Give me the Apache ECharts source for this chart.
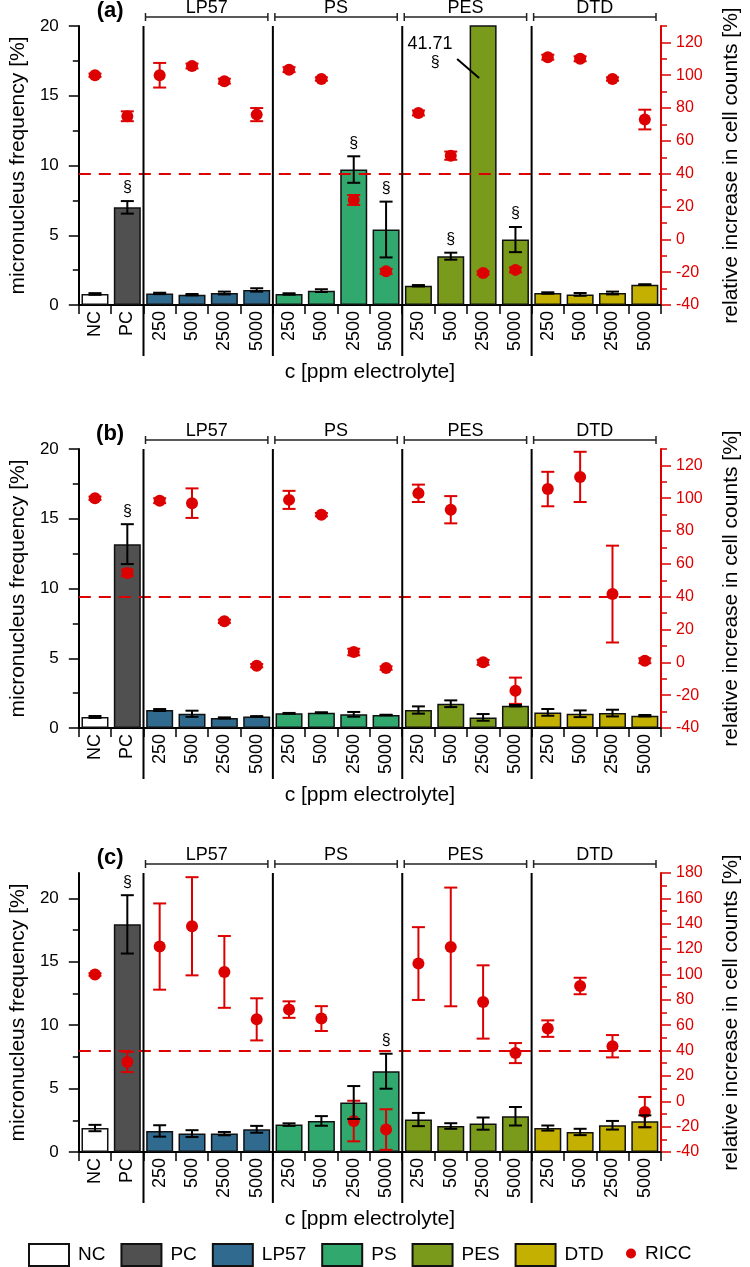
<!DOCTYPE html>
<html><head><meta charset="utf-8">
<script src="https://cdn.jsdelivr.net/npm/echarts@6/dist/echarts.min.js"></script>
<style>html,body{margin:0;padding:0;background:#fff}#c{width:750px;height:1267px}</style>
</head><body><div id="c"></div>
<script>
// ---------- data ----------
const categories = ['NC','PC','250','500','2500','5000','250','500','2500','5000','250','500','2500','5000','250','500','2500','5000'];
const groupNames = ['NC','PC','LP57','PS','PES','DTD'];
const groupOfCategory = [0,1,2,2,2,2,3,3,3,3,4,4,4,4,5,5,5,5];
const panelLabels = ['(a)','(b)','(c)'];
const xAxisTitle = 'c [ppm electrolyte]';
const leftTitle = 'micronucleus frequency [%]';
const rightTitle = 'relative increase in cell counts [%]';
const riccName = 'RICC';
const threshold = 40;

// panel (a)
const mnA      = [0.79, 7.0, 0.83, 0.74, 0.86, 1.08, 0.79, 1.03, 9.71, 5.41, 1.38, 3.50, 41.71, 4.69, 0.86, 0.76, 0.86, 1.46];
const mnErrA   = [0.06, 0.45, 0.05, 0.05, 0.10, 0.12, 0.05, 0.10, 0.95, 2.00, 0.05, 0.25, 0, 0.90, 0.05, 0.10, 0.10, 0.03];
const sigA     = [0,1,0,0,0,0,0,0,1,1,0,1,1,1,0,0,0,0];
const riccA    = [100, 75, 100, 105.6, 96.4, 76, 103.4, 97.7, 24, -19.5, 77, 51, -20.5, -18.6, 111, 110, 97.7, 73];
const riccErrA = [1, 3, 7.5, 1.5, 1.5, 4, 1.5, 1, 3, 1.5, 1.5, 2.5, 1, 1.5, 1.5, 1.5, 1, 6];
// panel (b)
const mnB      = [0.79, 13.18, 1.29, 1.02, 0.72, 0.83, 1.05, 1.10, 0.98, 0.93, 1.29, 1.74, 0.76, 1.60, 1.12, 1.02, 1.07, 0.88];
const mnErrB   = [0.07, 1.43, 0.07, 0.22, 0.04, 0.02, 0.03, 0.03, 0.17, 0.02, 0.26, 0.24, 0.24, 0.05, 0.24, 0.24, 0.24, 0.05];
const sigB     = [0,1,0,0,0,0,0,0,0,0,0,0,0,0,0,0,0,0];
const riccB    = [100, 54.5, 98.5, 97, 25, -2, 99, 90, 6.3, -3.5, 103, 93, 0, -17.3, 105.6, 113, 41.6, 1];
const riccErrB = [1, 2, 1.5, 9, 1, 1, 5.5, 1, 2, 1, 5.3, 8.3, 1.5, 8, 10.5, 15.3, 29.5, 1.5];
// panel (c)
const mnC      = [1.89, 17.95, 1.66, 1.45, 1.45, 1.79, 2.16, 2.45, 3.90, 6.37, 2.56, 2.05, 2.24, 2.82, 1.89, 1.58, 2.11, 2.42];
const mnErrC   = [0.25, 2.30, 0.45, 0.27, 0.13, 0.27, 0.10, 0.38, 1.30, 1.38, 0.52, 0.22, 0.48, 0.73, 0.20, 0.25, 0.34, 0.47];
const sigC     = [0,1,0,0,0,0,0,0,0,1,0,0,0,0,0,0,0,0];
const riccC    = [100, 31, 122, 138, 102, 64.6, 72.3, 65.2, -15.6, -22.3, 108.6, 121.7, 78.3, 38, 57.3, 90.9, 43.4, -8.5];
const riccErrC = [1, 8, 34, 38.7, 28.3, 16.6, 6.5, 9.8, 16, 16, 28.7, 46.8, 28.9, 7.9, 6.5, 6.5, 8.8, 11.9];

// axis ticks
const leftMaxes = [20, 20, 22];
const rightMin = -40;
const rightMaxes = [130, 130, 180];
const leftTicks = [0, 5, 10, 15, 20];
const leftMinorTicks = [2.5, 7.5, 12.5, 17.5];
const rightTicksAB = [-40, -20, 0, 20, 40, 60, 80, 100, 120];
const rightMinorAB = [-30, -10, 10, 30, 50, 70, 90, 110, 130];
const rightTicksC = [-40, -20, 0, 20, 40, 60, 80, 100, 120, 140, 160, 180];
const rightMinorC = [-30, -10, 10, 30, 50, 70, 90, 110, 130, 150, 170];

// ---------- styles ----------
const FONT = '"Liberation Sans", Arial, Helvetica, sans-serif';
const RED = '#dc0000';
const groupColors = ['#ffffff', '#505050', '#306a8e', '#31a86e', '#7a9a1b', '#c3b000'];
const panels = [
  {mn: mnA, mnErr: mnErrA, sig: sigA, ricc: riccA, riccErr: riccErrA, rT: rightTicksAB, rM: rightMinorAB},
  {mn: mnB, mnErr: mnErrB, sig: sigB, ricc: riccB, riccErr: riccErrB, rT: rightTicksAB, rM: rightMinorAB},
  {mn: mnC, mnErr: mnErrC, sig: sigC, ricc: riccC, riccErr: riccErrC, rT: rightTicksC, rM: rightMinorC}
];
const gridTops = [26, 449, 873];
const gridH = 279;

function errRender(color, maxVal, withSig) {
  return function (params, api) {
    const i = api.value(0), lo = api.value(1), hi = api.value(2);
    if (isNaN(lo) || isNaN(hi) || hi > maxVal) return;
    const p1 = api.coord([i, hi]), p0 = api.coord([i, lo]);
    const w = 6.5;
    const ls = {stroke: color, lineWidth: 2};
    const ch = [
      {type: 'line', shape: {x1: p0[0], y1: p0[1], x2: p1[0], y2: p1[1]}, style: ls},
      {type: 'line', shape: {x1: p1[0] - w, y1: p1[1], x2: p1[0] + w, y2: p1[1]}, style: ls},
      {type: 'line', shape: {x1: p0[0] - w, y1: p0[1], x2: p0[0] + w, y2: p0[1]}, style: ls}
    ];
    if (withSig && api.value(3) === 1) {
      ch.push({type: 'text', x: p1[0], y: p1[1] - 13,
        style: {text: '§', fill: '#000', fontSize: 16, fontFamily: FONT, align: 'center', verticalAlign: 'middle'}});
    }
    return {type: 'group', children: ch};
  };
}

const grid = [], xAxis = [], yAxis = [], series = [];
panels.forEach((p, k) => {
  grid.push({left: 71, right: 83, top: gridTops[k], height: gridH});
  xAxis.push({
    type: 'category', gridIndex: k, data: categories, boundaryGap: true,
    name: xAxisTitle, nameLocation: 'middle', nameGap: 57,
    nameTextStyle: {fontSize: 21, color: '#000', fontFamily: FONT},
    axisLine: {onZero: false, lineStyle: {color: '#000', width: 2}},
    axisTick: {show: true, length: 9, lineStyle: {color: '#000', width: 1.5}},
    axisLabel: {interval: 0, rotate: 90, fontSize: 18, color: '#000', fontFamily: FONT, margin: 6},
    splitLine: {show: false}
  });
  const lm = leftMaxes[k], rm = rightMaxes[k];
  yAxis.push({
    type: 'value', gridIndex: k, position: 'left', min: 0, max: lm,
    name: leftTitle, nameLocation: 'middle', nameRotate: 90, nameGap: 47,
    nameTextStyle: {fontSize: 21, color: '#000', fontFamily: FONT},
    axisLine: {show: true, lineStyle: {color: '#000', width: 2}},
    axisTick: {show: true, length: 10, customValues: leftTicks, lineStyle: {color: '#000', width: 1.5}},
    axisLabel: {customValues: leftTicks, fontSize: 17, color: '#000', fontFamily: FONT, margin: 20},
    splitLine: {show: false}
  });
  yAxis.push({
    type: 'value', gridIndex: k, position: 'right', min: rightMin, max: rm,
    name: rightTitle, nameLocation: 'middle', nameRotate: 90, nameGap: 60,
    nameTextStyle: {fontSize: 21, color: '#000', fontFamily: FONT},
    axisLine: {show: true, lineStyle: {color: RED, width: 2}},
    axisTick: {show: true, length: 10, customValues: p.rT, lineStyle: {color: RED, width: 1.5}},
    axisLabel: {customValues: p.rT, fontSize: 16, color: RED, fontFamily: FONT, margin: 15},
    splitLine: {show: false}
  });
  yAxis.push({
    type: 'value', gridIndex: k, position: 'left', min: 0, max: lm,
    axisLine: {show: false}, axisLabel: {show: false}, splitLine: {show: false},
    axisTick: {show: true, length: 6, customValues: leftMinorTicks, lineStyle: {color: '#000', width: 1.5}}
  });
  yAxis.push({
    type: 'value', gridIndex: k, position: 'right', min: rightMin, max: rm,
    axisLine: {show: false}, axisLabel: {show: false}, splitLine: {show: false},
    axisTick: {show: true, length: 6, customValues: p.rM, lineStyle: {color: RED, width: 1.5}}
  });
  const yl = 4 * k, yr = 4 * k + 1;
  groupNames.forEach((gname, g) => {
    series.push({
      type: 'bar', name: gname, xAxisIndex: k, yAxisIndex: yl, stack: 'mn' + k, barWidth: 27, z: 1,
      clip: true,
      itemStyle: {color: groupColors[g], borderColor: '#111', borderWidth: 1.5},
      data: p.mn.map((v, i) => groupOfCategory[i] === g ? v : null)
    });
  });
  series.push({
    type: 'custom', name: riccName + ' err', xAxisIndex: k, yAxisIndex: yr, z: 2,
    renderItem: errRender(RED, rm, false),
    encode: {x: 0, y: [1, 2]},
    data: p.ricc.map((v, i) => [i, v - p.riccErr[i], v + p.riccErr[i]])
  });
  series.push({
    type: 'scatter', name: riccName, xAxisIndex: k, yAxisIndex: yr, z: 3,
    symbol: 'circle', symbolSize: 12, itemStyle: {color: RED, opacity: 1},
    data: p.ricc.map((v, i) => [i, v]),
    markLine: {
      silent: true, symbol: 'none', label: {show: false}, animation: false,
      lineStyle: {color: RED, type: [12, 8], width: 2, opacity: 1},
      data: [{yAxis: threshold}]
    }
  });
  series.push({
    type: 'custom', name: 'MN err', xAxisIndex: k, yAxisIndex: yl, z: 4,
    renderItem: errRender('#000', lm, true),
    encode: {x: 0, y: [1, 2]},
    data: p.mn.map((v, i) => [i, v - p.mnErr[i], v + p.mnErr[i], p.sig[i]])
  });
});

const option = {
  backgroundColor: '#fff',
  animation: false,
  textStyle: {fontFamily: FONT},
  grid, xAxis, yAxis, series,
  legend: [
    {data: groupNames.map(n => ({name: n, icon: 'rect'})), left: 28, top: 1243, itemWidth: 40, itemHeight: 22, itemGap: 15, padding: 0,
     textStyle: {fontSize: 19, color: '#000', fontFamily: FONT, padding: [0, 0, 0, 4]}},
    {data: [{name: riccName, icon: 'circle'}], left: 626, top: 1244, itemWidth: 10, itemHeight: 10, padding: 0,
     textStyle: {fontSize: 19, color: '#000', fontFamily: FONT, padding: [0, 0, 0, 4]}}
  ]
};

const chart = echarts.init(document.getElementById('c'), null, {renderer: 'canvas'});
chart.setOption(option);

// ---------- decorations positioned through the axes ----------
const graphics = [];
panels.forEach((p, k) => {
  const px = (i, v) => chart.convertToPixel({xAxisIndex: k, yAxisIndex: 4 * k}, [i, v]);
  const band = px(1, 0)[0] - px(0, 0)[0];
  const top = gridTops[k], bottom = top + gridH;
  const lineStyle = {stroke: '#000', lineWidth: 2};
  const ranges = [];
  groupOfCategory.forEach((g, i) => {
    if (!ranges.length || ranges[ranges.length - 1].g !== g) ranges.push({g, s: i, e: i});
    else ranges[ranges.length - 1].e = i;
  });
  ranges.forEach(r => {
    if (r.g < 2) return;
    const xs = px(r.s, 0)[0] - band / 2;
    const xe = px(r.e, 0)[0] + band / 2;
    graphics.push({type: 'line', z: 10, shape: {x1: xs, y1: top, x2: xs, y2: bottom + 51}, style: lineStyle});
    const x1 = xs + 2, x2 = xe - 5, yb = top - 9;
    const bs = {stroke: '#222', lineWidth: 1.5};
    graphics.push({type: 'line', z: 10, shape: {x1, y1: yb, x2, y2: yb}, style: bs});
    graphics.push({type: 'line', z: 10, shape: {x1, y1: yb - 4, x2: x1, y2: yb + 4}, style: bs});
    graphics.push({type: 'line', z: 10, shape: {x1: x2, y1: yb - 4, x2, y2: yb + 4}, style: bs});
    graphics.push({type: 'text', z: 10, x: (x1 + x2) / 2, y: top - 18,
      style: {text: groupNames[r.g], fontSize: 18, fontFamily: FONT, fill: '#000', align: 'center', verticalAlign: 'middle'}});
  });
  graphics.push({type: 'text', z: 10, x: px(0, 0)[0] + band / 2 - 1, y: top - 15,
    style: {text: panelLabels[k], fontSize: 22, fontWeight: 'bold', fontFamily: FONT, fill: '#000', align: 'center', verticalAlign: 'middle'}});
  p.mn.forEach((v, i) => {
    if (v <= leftMaxes[k]) return;
    const c = px(i, leftMaxes[k]);
    graphics.push({type: 'text', z: 10, x: c[0] - 53, y: top + 18,
      style: {text: v.toFixed(2), fontSize: 18, fontFamily: FONT, fill: '#000', align: 'center', verticalAlign: 'middle'}});
    if (p.sig[i]) graphics.push({type: 'text', z: 10, x: c[0] - 48, y: top + 37,
      style: {text: '§', fontSize: 16, fontFamily: FONT, fill: '#000', align: 'center', verticalAlign: 'middle'}});
    graphics.push({type: 'line', z: 10, shape: {x1: c[0] - 26, y1: top + 33, x2: c[0] - 4, y2: top + 52}, style: {stroke: '#000', lineWidth: 2}});
  });
});
chart.setOption({graphic: {elements: graphics}});
</script>
</body></html>
